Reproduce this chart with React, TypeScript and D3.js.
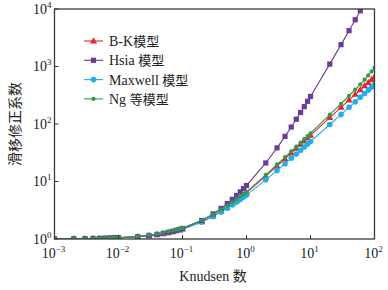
import React from "react";
import * as d3 from "d3";

const knudsen = [
  0.001, 0.002, 0.003, 0.004, 0.005, 0.006, 0.007, 0.008, 0.009,
  0.01, 0.02, 0.03, 0.04, 0.05, 0.06, 0.07, 0.08, 0.09,
  0.1, 0.2, 0.3, 0.4, 0.5, 0.6, 0.7, 0.8, 0.9,
  1, 2, 3, 4, 5, 6, 7, 8, 9,
  10, 20, 30, 40, 50, 60, 70, 80, 90, 100,
];

const bkValues = [
  1.004, 1.0085, 1.013, 1.017, 1.022, 1.026, 1.031, 1.036, 1.04,
  1.045, 1.091, 1.139, 1.187, 1.236, 1.285, 1.334, 1.383, 1.433,
  1.483, 1.99, 2.52, 3.05, 3.6, 4.15, 4.71, 5.28, 5.86,
  6.44, 12.4, 18.6, 24.9, 31.3, 37.7, 44.2, 50.6, 57.1,
  63.6, 129, 195, 261, 328, 394, 461, 528, 595, 661,
];

const hsiaValues = [
  1.005, 1.01, 1.015, 1.02, 1.025, 1.03, 1.035, 1.04, 1.045,
  1.05, 1.101, 1.152, 1.204, 1.256, 1.309, 1.362, 1.416, 1.47,
  1.525, 2.1, 2.73, 3.4, 4.13, 4.9, 5.73, 6.6, 7.53,
  8.5, 21, 38.5, 61, 88.5, 121, 158.5, 201, 248.5,
  301, 1101, 2401, 4201, 6501, 9301,
];

const maxwellValues = [
  1.005, 1.01, 1.015, 1.019, 1.024, 1.029, 1.034, 1.039, 1.044,
  1.049, 1.097, 1.146, 1.194, 1.243, 1.291, 1.34, 1.388, 1.437,
  1.485, 1.97, 2.46, 2.94, 3.43, 3.91, 4.4, 4.88, 5.37,
  5.85, 10.7, 15.6, 20.4, 25.3, 30.1, 35, 39.8, 44.7,
  49.5, 98, 146, 195, 243, 292, 340, 389, 437, 486,
];

const ngValues = [
  1.006, 1.011, 1.017, 1.022, 1.028, 1.034, 1.039, 1.045, 1.05,
  1.056, 1.112, 1.168, 1.224, 1.28, 1.336, 1.392, 1.448, 1.504,
  1.56, 2.12, 2.68, 3.24, 3.8, 4.36, 4.92, 5.48, 6.04,
  6.6, 13, 19.8, 26.6, 33.5, 40.5, 47.5, 54.5, 61.7,
  69, 145, 225, 310, 398, 490, 590, 700, 820, 950,
];

const seriesNames = ["B-K模型", "Hsia 模型", "Maxwell 模型", "Ng 等模型"];
const xTickExps = [-3, -2, -1, 0, 1, 2];
const yTickExps = [0, 1, 2, 3, 4];

const W = 388;
const H = 290;
const M = { left: 54.5, right: 374.5, top: 9, bottom: 239 };
const FONT = "'Liberation Serif', 'Times New Roman', 'Noto Sans CJK SC', serif";
const CJK = "'Noto Sans CJK SC', 'Liberation Serif', serif";

type Series = { name: string; values: number[]; color: string; marker: string };

const series: Series[] = [
  { name: seriesNames[0], values: bkValues, color: "#e8262b", marker: "triangle" },
  { name: seriesNames[1], values: hsiaValues, color: "#6a3a9c", marker: "square" },
  { name: seriesNames[2], values: maxwellValues, color: "#1ab0ee", marker: "circle" },
  { name: seriesNames[3], values: ngValues, color: "#2f9c45", marker: "dot" },
];

function Marker({ kind, x, y, color }: { kind: string; x: number; y: number; color: string }) {
  if (kind === "square") return <rect x={x - 2.6} y={y - 2.6} width={5.2} height={5.2} fill={color} />;
  if (kind === "circle") return <circle cx={x} cy={y} r={2.8} fill={color} />;
  if (kind === "triangle") {
    const p = d3.symbol().type(d3.symbolTriangle).size(22)();
    return <path d={p || ""} transform={`translate(${x},${y + 0.4})`} fill={color} />;
  }
  return <circle cx={x} cy={y} r={2.1} fill={color} />;
}

export default function App() {
  const x = d3.scaleLog().domain([1e-3, 1e2]).range([M.left, M.right]);
  const y = d3.scaleLog().domain([1, 1e4]).range([M.bottom, M.top]);
  const line = d3
    .line<[number, number]>()
    .x((d) => x(d[0]))
    .y((d) => y(d[1]));

  const drawOrder = [0, 2, 1, 3];
  const axisColor = "#3a3a3a";

  return (
    <svg
      width={W}
      height={H}
      style={{ position: "absolute", left: 0, top: 0, background: "#fff" }}
      xmlns="http://www.w3.org/2000/svg"
    >
      <rect x={0} y={0} width={W} height={H} fill="#fff" />
      <defs>
        <clipPath id="plot">
          <rect x={M.left} y={M.top} width={M.right - M.left} height={M.bottom - M.top} />
        </clipPath>
      </defs>

      <g clipPath="url(#plot)">
        {drawOrder.map((i) => {
          const s = series[i];
          const pts: [number, number][] = s.values.map((v, j) => [knudsen[j], v]);
          return (
            <g key={s.name}>
              <path d={line(pts) || ""} fill="none" stroke={s.color} strokeWidth={1.1} />
              {pts.map((p, j) => (
                <Marker key={j} kind={s.marker} x={x(p[0])} y={y(p[1])} color={s.color} />
              ))}
            </g>
          );
        })}
      </g>

      {/* frame */}
      <rect
        x={M.left}
        y={M.top}
        width={M.right - M.left}
        height={M.bottom - M.top}
        fill="none"
        stroke={axisColor}
        strokeWidth={1.3}
      />

      {/* x ticks */}
      {xTickExps.map((e) => {
        const px = x(Math.pow(10, e));
        return (
          <g key={"x" + e}>
            <line x1={px} x2={px} y1={M.bottom} y2={M.bottom - 4} stroke={axisColor} strokeWidth={1} />
            <text x={px - 1} y={258} fontFamily={FONT} fontSize={14} fill="#222" textAnchor="middle">
              10
              <tspan dy={-6} fontSize={9}>
                {e < 0 ? "\u2212" + Math.abs(e) : String(e)}
              </tspan>
            </text>
          </g>
        );
      })}

      {/* y ticks */}
      {yTickExps.map((e) => {
        const py = y(Math.pow(10, e));
        return (
          <g key={"y" + e}>
            <line x1={M.left} x2={M.left + 4} y1={py} y2={py} stroke={axisColor} strokeWidth={1} />
            <text x={33} y={py + 4.5} fontFamily={FONT} fontSize={14} fill="#222">
              10
              <tspan dy={-6} fontSize={9}>
                {String(e)}
              </tspan>
            </text>
          </g>
        );
      })}

      {/* axis titles */}
      <text x={213} y={281} fontFamily={FONT} fontSize={14} fill="#222" textAnchor="middle">
        Knudsen <tspan fontFamily={CJK}>数</tspan>
      </text>
      <text
        transform={`translate(20,${(M.top + M.bottom) / 2}) rotate(-90)`}
        fontFamily={CJK}
        fontSize={14}
        fill="#222"
        textAnchor="middle"
      >
        滑移修正系数
      </text>

      {/* legend */}
      {series.map((s, i) => {
        const ly = 41 + i * 19.3;
        return (
          <g key={"lg" + i}>
            <line x1={84} x2={103} y1={ly} y2={ly} stroke={s.color} strokeWidth={1.1} />
            <Marker kind={s.marker} x={93.5} y={ly} color={s.color} />
            <text x={109} y={ly + 5} fontFamily={FONT} fontSize={14} fill="#222">
              {s.name.split(/(模型|等模型)/).filter(Boolean).map((part, k) =>
                /[\u4e00-\u9fff]/.test(part) ? (
                  <tspan key={k} fontFamily={CJK} fontSize={13}>
                    {part}
                  </tspan>
                ) : (
                  <tspan key={k}>{part}</tspan>
                )
              )}
            </text>
          </g>
        );
      })}
    </svg>
  );
}
